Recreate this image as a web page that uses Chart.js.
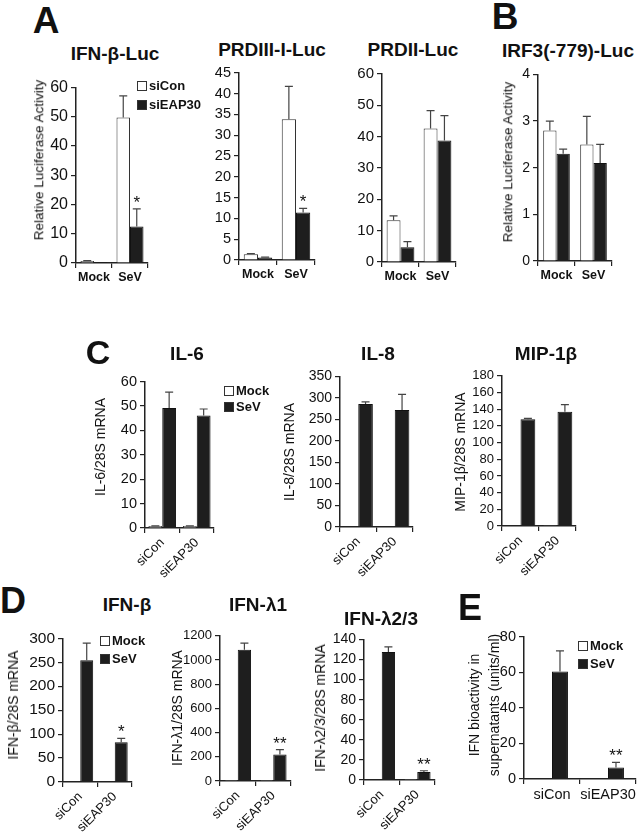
<!DOCTYPE html>
<html>
<head>
<meta charset="utf-8">
<script src="https://cdn.jsdelivr.net/npm/chart.js@4.4.1/dist/chart.umd.min.js"></script>
<style>
  body { margin: 0; background: #fff; }
  #page { position: relative; width: 641px; height: 840px; overflow: hidden;
          font-family: "Liberation Sans", Arial, sans-serif; color: #111; }
  canvas { position: absolute; }
  .t { position: absolute; white-space: nowrap; line-height: 1; transform: translate(-50%, -50%); }
  .lg { position: absolute; display: flex; align-items: center; font-weight: bold; font-size: 13px; line-height: 1; white-space: nowrap; }
  .lg i { display: inline-block; width: 8px; height: 8px; border: 1px solid #333; margin-right: 2px; }
</style>
</head>
<body>
<div id="page"></div>
<script>
// categories
const lucCats = ["Mock", "SeV"];
const siCats = ["siCon", "siEAP30"];

// A: IFN-β-Luc
const ifnbLucCon = [0.7, 49.8], ifnbLucConErr = [0.1, 7.4];
const ifnbLucKd = [0.3, 12.5], ifnbLucKdErr = [0, 6];
// A: PRDIII-I-Luc
const prd3Con = [1.4, 33.8], prd3ConErr = [0.15, 7.9];
const prd3Kd = [0.6, 11.4], prd3KdErr = [0.1, 1.0];
// A: PRDII-Luc
const prd2Con = [13.3, 42.6], prd2ConErr = [1.4, 5.7];
const prd2Kd = [4.7, 38.8], prd2KdErr = [1.8, 7.9];
// B: IRF3(-779)-Luc
const irf3Con = [2.8, 2.5], irf3ConErr = [0.2, 0.6];
const irf3Kd = [2.3, 2.1], irf3KdErr = [0.1, 0.4];
// C: IL-6, IL-8, MIP-1β
const il6Mock = [0.8, 0.8], il6MockErr = [0.1, 0.1];
const il6Sev = [49.2, 46.1], il6SevErr = [6.5, 2.7];
const il8Mock = [0.5, 0.5], il8MockErr = [0, 0];
const il8Sev = [286, 272], il8SevErr = [5, 36];
const mipMock = [0.5, 1], mipMockErr = [0, 0];
const mipSev = [128, 137], mipSevErr = [1, 8.5];
// D: IFN-β, IFN-λ1, IFN-λ2/3
const ifnbMock = [0.5, 0.5], ifnbMockErr = [0, 0];
const ifnbSev = [254, 83], ifnbSevErr = [36, 8];
const ifnl1Mock = [1, 1], ifnl1MockErr = [0, 0];
const ifnl1Sev = [1085, 220], ifnl1SevErr = [55, 40];
const ifnl23Mock = [0.5, 1], ifnl23MockErr = [0, 0];
const ifnl23Sev = [127.5, 8], ifnl23SevErr = [5, 1.2];
// E: IFN bioactivity
const bioMock = [0, 0];
const bioSev = [60.5, 6.5], bioSevErr = [11.5, 2.8];

const page = document.getElementById("page");
Chart.defaults.font.family = "'Liberation Sans', Arial, sans-serif";
Chart.defaults.color = "#111";

const WHITE = { backgroundColor: "#ffffff", borderColor: "#333", borderWidth: 1 };
const BLACK = { backgroundColor: "#1e1e1e", borderColor: "#111", borderWidth: 1 };

// error bars (upper only) and significance stars
const errorBarPlugin = {
  id: "errorBars",
  afterDatasetsDraw(chart) {
    const ctx = chart.ctx;
    const yScale = chart.scales.y;
    chart.data.datasets.forEach((ds, di) => {
      const meta = chart.getDatasetMeta(di);
      meta.data.forEach((bar, i) => {
        const v = ds.data[i];
        const e = ds.errors ? ds.errors[i] : 0;
        const yTop = yScale.getPixelForValue(v + e);
        ctx.save();
        if (e > 0) {
          ctx.strokeStyle = "#444";
          ctx.lineWidth = 1.2;
          ctx.beginPath();
          ctx.moveTo(bar.x, bar.y);
          ctx.lineTo(bar.x, yTop);
          ctx.moveTo(bar.x - 4, yTop);
          ctx.lineTo(bar.x + 4, yTop);
          ctx.stroke();
        }
        if (ds.stars && ds.stars[i]) {
          ctx.fillStyle = "#111";
          ctx.font = "17px 'Liberation Sans', Arial, sans-serif";
          ctx.textAlign = "center";
          ctx.textBaseline = "alphabetic";
          ctx.fillText(ds.stars[i], bar.x, yTop - 1);
        }
        ctx.restore();
      });
    });
  },
};

function makeChart(o) {
  const padL = 50, padT = 10, padR = o.padR || 8, padB = 55;
  const w = o.x1 - o.x0 + padL + padR;
  const h = o.bottom - o.top + padT + padB;
  const cv = document.createElement("canvas");
  cv.width = w;
  cv.height = h;
  cv.style.left = o.x0 - padL + "px";
  cv.style.top = o.top - padT + "px";
  cv.style.width = w + "px";
  cv.style.height = h + "px";
  page.appendChild(cv);

  new Chart(cv, {
    type: "bar",
    data: {
      labels: o.labels,
      datasets: o.datasets,
    },
    options: {
      responsive: false,
      animation: false,
      devicePixelRatio: 1,
      layout: { padding: { top: padT, right: padR, left: 0, bottom: 0 } },
      datasets: { bar: { categoryPercentage: o.catPct || 0.75, barPercentage: 1 } },
      plugins: { legend: { display: false }, tooltip: { enabled: false } },
      scales: {
        x: {
          ticks: {
            font: { size: o.xSize || 13, weight: o.xBold ? "bold" : "normal" },
            color: "#111",
            minRotation: o.rot || 0,
            maxRotation: o.rot || 0,
            autoSkip: false,
            padding: 2,
          },
          grid: { offset: true, drawOnChartArea: false, tickLength: 5, color: "#222", lineWidth: 1.2 },
          border: { color: "#222", width: 1.5 },
          afterFit(s) { s.height = padB; },
        },
        y: {
          min: 0,
          max: o.max,
          ticks: {
            stepSize: o.step,
            autoSkip: false,
            font: { size: o.ySize || 14 },
            color: "#111",
            padding: 3,
            callback: (v) => String(v),
          },
          grid: { drawOnChartArea: false, tickLength: 5, color: "#222", lineWidth: 1.2 },
          border: { color: "#222", width: 1.5 },
          afterFit(s) { s.width = padL; },
        },
      },
    },
    plugins: [errorBarPlugin],
  });
}

function addText(txt, x, y, size, bold, rot) {
  const d = document.createElement("div");
  d.className = "t";
  d.textContent = txt;
  d.style.left = x + "px";
  d.style.top = y + "px";
  d.style.fontSize = size + "px";
  if (bold) d.style.fontWeight = "bold";
  if (rot) d.style.transform = "translate(-50%, -50%) rotate(-90deg)";
  page.appendChild(d);
}

function addLegend(x, y, label, fill) {
  const d = document.createElement("div");
  d.className = "lg";
  d.style.left = x + "px";
  d.style.top = y - 7 + "px";
  const b = document.createElement("i");
  b.style.background = fill;
  d.appendChild(b);
  d.appendChild(document.createTextNode(label));
  page.appendChild(d);
}

// ---- Panel A ----
makeChart({
  x0: 76, x1: 148, top: 85, bottom: 263, max: 60, step: 10, ySize: 16,
  labels: lucCats, xBold: true, xSize: 12.5,
  datasets: [
    { label: "siCon", data: ifnbLucCon, errors: ifnbLucConErr, ...WHITE },
    { label: "siEAP30", data: ifnbLucKd, errors: ifnbLucKdErr, stars: ["", "*"], ...BLACK },
  ],
});
makeChart({
  x0: 239, x1: 315, top: 71, bottom: 260, max: 45, step: 5, ySize: 14.5,
  labels: lucCats, xBold: true, xSize: 12.5,
  datasets: [
    { label: "siCon", data: prd3Con, errors: prd3ConErr, ...WHITE },
    { label: "siEAP30", data: prd3Kd, errors: prd3KdErr, stars: ["", "*"], ...BLACK },
  ],
});
makeChart({
  x0: 382, x1: 456, top: 72, bottom: 262, max: 60, step: 10, ySize: 15,
  labels: lucCats, xBold: true, xSize: 12.5,
  datasets: [
    { label: "siCon", data: prd2Con, errors: prd2ConErr, ...WHITE },
    { label: "siEAP30", data: prd2Kd, errors: prd2KdErr, ...BLACK },
  ],
});
// ---- Panel B ----
makeChart({
  x0: 538, x1: 612, top: 73, bottom: 261, max: 4, step: 1, ySize: 14,
  labels: lucCats, xBold: true, xSize: 12.5, catPct: 0.72,
  datasets: [
    { label: "siCon", data: irf3Con, errors: irf3ConErr, ...WHITE },
    { label: "siEAP30", data: irf3Kd, errors: irf3KdErr, ...BLACK },
  ],
});
// ---- Panel C ----
makeChart({
  x0: 145, x1: 214, top: 380, bottom: 528, max: 60, step: 10, ySize: 14.5,
  labels: siCats, rot: 45, xSize: 13, catPct: 0.8,
  datasets: [
    { label: "Mock", data: il6Mock, errors: il6MockErr, ...WHITE },
    { label: "SeV", data: il6Sev, errors: il6SevErr, ...BLACK },
  ],
});
makeChart({
  x0: 340, x1: 413, top: 375, bottom: 527, max: 350, step: 50, ySize: 14,
  labels: siCats, rot: 45, xSize: 13, catPct: 0.8,
  datasets: [
    { label: "Mock", data: il8Mock, errors: il8MockErr, ...WHITE },
    { label: "SeV", data: il8Sev, errors: il8SevErr, ...BLACK },
  ],
});
makeChart({
  x0: 502, x1: 576, top: 375, bottom: 526, max: 180, step: 20, ySize: 13,
  labels: siCats, rot: 45, xSize: 13, catPct: 0.8,
  datasets: [
    { label: "Mock", data: mipMock, errors: mipMockErr, ...WHITE },
    { label: "SeV", data: mipSev, errors: mipSevErr, ...BLACK },
  ],
});
// ---- Panel D ----
makeChart({
  x0: 63, x1: 132, top: 636, bottom: 782, max: 300, step: 50, ySize: 15.5,
  labels: siCats, rot: 45, xSize: 13,
  datasets: [
    { label: "Mock", data: ifnbMock, errors: ifnbMockErr, ...WHITE },
    { label: "SeV", data: ifnbSev, errors: ifnbSevErr, stars: ["", "*"], ...BLACK },
  ],
});
makeChart({
  x0: 220, x1: 291, top: 635, bottom: 781, max: 1200, step: 200, ySize: 13,
  labels: siCats, rot: 45, xSize: 13,
  datasets: [
    { label: "Mock", data: ifnl1Mock, errors: ifnl1MockErr, ...WHITE },
    { label: "SeV", data: ifnl1Sev, errors: ifnl1SevErr, stars: ["", "**"], ...BLACK },
  ],
});
makeChart({
  x0: 364, x1: 435, top: 638, bottom: 780, max: 140, step: 20, ySize: 14,
  labels: siCats, rot: 45, xSize: 13,
  datasets: [
    { label: "Mock", data: ifnl23Mock, errors: ifnl23MockErr, ...WHITE },
    { label: "SeV", data: ifnl23Sev, errors: ifnl23SevErr, stars: ["", "**"], ...BLACK },
  ],
});
// ---- Panel E ----
makeChart({
  x0: 524, x1: 636, top: 635, bottom: 779, max: 80, step: 20, ySize: 14.5,
  labels: siCats, xSize: 14.5, catPct: 0.57, padR: 4,
  datasets: [
    { label: "Mock", data: bioMock, ...WHITE },
    { label: "SeV", data: bioSev, errors: bioSevErr, stars: ["", "**"], ...BLACK },
  ],
});

// panel letters
addText("A", 46, 20, 37, true);
addText("B", 505, 16, 37, true);
addText("C", 98, 352, 34, true);
addText("D", 13, 601, 36, true);
addText("E", 470, 608, 36, true);

// chart titles
addText("IFN-β-Luc", 115, 53, 19, true);
addText("PRDIII-I-Luc", 272, 49, 19, true);
addText("PRDII-Luc", 413, 49, 19, true);
addText("IRF3(-779)-Luc", 568, 50, 19, true);
addText("IL-6", 187, 353, 19, true);
addText("IL-8", 378, 353, 19, true);
addText("MIP-1β", 546, 353, 19, true);
addText("IFN-β", 127, 604, 19, true);
addText("IFN-λ1", 258, 604, 19, true);
addText("IFN-λ2/3", 381, 618, 19, true);

// y axis titles
addText("Relative Luciferase Activity", 39, 160, 13.5, false, true);
addText("Relative Luciferase Activity", 508, 162, 13.5, false, true);
addText("IL-6/28S mRNA", 100, 447, 14, false, true);
addText("IL-8/28S mRNA", 289, 452, 14, false, true);
addText("MIP-1β/28S mRNA", 460, 452, 14, false, true);
addText("IFN-β/28S mRNA", 13, 705, 14, false, true);
addText("IFN-λ1/28S mRNA", 177, 708, 14, false, true);
addText("IFN-λ2/3/28S mRNA", 320, 708, 14, false, true);
addText("IFN bioactivity in", 474, 705, 14, false, true);
addText("supernatants  (units/ml)", 494, 705, 14, false, true);

// legends
addLegend(137, 86, "siCon", "#fff");
addLegend(137, 105, "siEAP30", "#1e1e1e");
addLegend(224, 391, "Mock", "#fff");
addLegend(224, 407, "SeV", "#1e1e1e");
addLegend(100, 641, "Mock", "#fff");
addLegend(100, 659, "SeV", "#1e1e1e");
addLegend(578, 646, "Mock", "#fff");
addLegend(578, 664, "SeV", "#1e1e1e");
</script>
</body>
</html>
